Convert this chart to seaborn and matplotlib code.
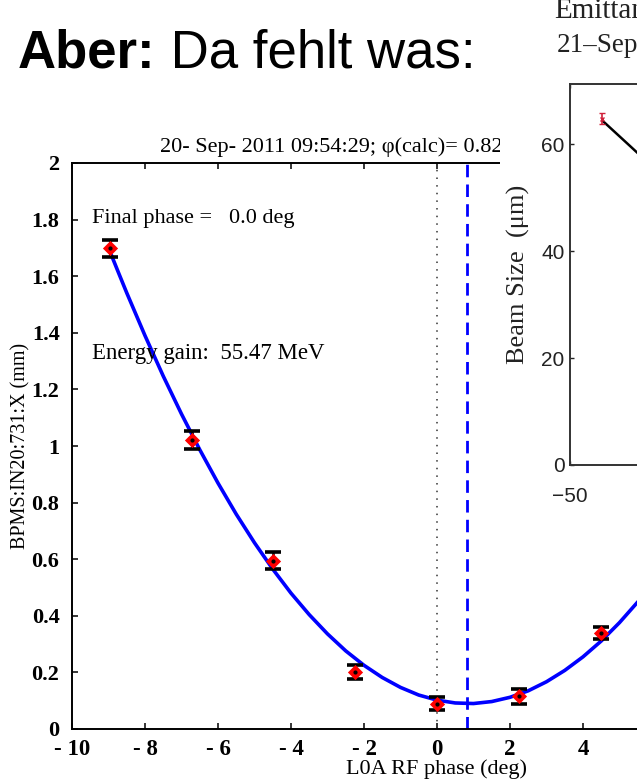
import numpy as np
import pandas as pd
import matplotlib.pyplot as plt
import seaborn as sns

# --- phase scan data ---
phase_deg = [-8.96, -6.72, -4.48, -2.24, 0.0, 2.24, 4.48]
bpm_x_mm = [1.698, 1.021, 0.595, 0.202, 0.090, 0.115, 0.340]
bpm_err_mm = [0.030, 0.032, 0.030, 0.025, 0.024, 0.027, 0.021]

# fitted curve
fit_phase = [-8.96, -8.75, -8.5, -8.0, -7.5, -7.0, -6.5, -6.0, -5.5, -5.0, -4.5, -4.0,
             -3.5, -3.0, -2.5, -2.0, -1.5, -1.0, -0.5, 0.0, 0.5, 1.0, 1.5,
             2.0, 2.5, 3.0, 3.5, 4.0, 4.5, 5.0, 5.5, 6.0]
fit_x_mm = [1.687, 1.62, 1.541, 1.39, 1.247, 1.113, 0.987, 0.869, 0.759, 0.658, 0.565, 0.48,
            0.404, 0.336, 0.276, 0.225, 0.182, 0.147, 0.12, 0.102, 0.092, 0.09, 0.097,
            0.112, 0.135, 0.167, 0.207, 0.255, 0.311, 0.376, 0.449, 0.53]

phase_calc = 0.82
final_phase = 0.0
# only the ticks that fall inside the slide crop
x_ticks = [-10, -8, -6, -4, -2, 0, 2, 4]
x_tick_labels = ['- 10', '- 8', '- 6', '- 4', '- 2', '0', '2', '4']
y_ticks = [0, 0.2, 0.4, 0.6, 0.8, 1.0, 1.2, 1.4, 1.6, 1.8, 2.0]
y_tick_labels = ['0', '0.2', '0.4', '0.6', '0.8', '1', '1.2', '1.4', '1.6', '1.8', '2']

# --- second (cropped) emittance plot ---
quad_k = [-39.3]
beam_size_um = [64.8]
beam_err_um = [1.0]
trend_k = [-39.3, -30.0, -20.0]
trend_um = [64.5, 59.7, 54.5]
beam_y_ticks = [0, 20, 40, 60]
beam_x_ticks = [-50]

sns.set_theme(style="ticks")
plt.rcParams['font.family'] = ['Liberation Serif', 'DejaVu Serif']
plt.rcParams.update({'axes.edgecolor': 'black', 'text.color': 'black',
                     'axes.labelcolor': 'black', 'xtick.color': 'black',
                     'ytick.color': 'black'})

W, H = 637, 783
fig = plt.figure(figsize=(W / 100, H / 100), dpi=100)
fig.patch.set_facecolor('white')

def rect(x0, y0, x1, y1):
    # pixel box (top-left origin) -> figure fraction
    return [x0 / W, 1 - y1 / H, (x1 - x0) / W, (y1 - y0) / H]

# main axes runs off the right edge of the slide
ax = fig.add_axes(rect(72, 163, 802, 729))
ax.set_facecolor('white')

df_fit = pd.DataFrame({'phase': fit_phase, 'x': fit_x_mm})
sns.lineplot(data=df_fit, x='phase', y='x', color='#0000ff', lw=2.6, ax=ax, zorder=3)

ax.axvline(final_phase, color='#333333', ls=(0, (1, 4)), lw=1.1, zorder=1)
ax.axvline(phase_calc, color='#0000ff', ls=(0, (4.5, 2.6)), lw=2.0, zorder=2)

ax.errorbar(phase_deg, bpm_x_mm, yerr=bpm_err_mm, fmt='none', ecolor='black',
            elinewidth=1.8, capsize=5.5, capthick=2.6, zorder=4)
df_pts = pd.DataFrame({'phase': phase_deg, 'x': bpm_x_mm})
sns.scatterplot(data=df_pts, x='phase', y='x', marker='D', s=60, color='red',
                edgecolor='red', linewidth=0, ax=ax, zorder=5)
ax.scatter(phase_deg, bpm_x_mm, s=4, color='black', zorder=6)

ax.set_xlim(-10, 10)
ax.set_ylim(0, 2)
ax.set_xticks(x_ticks)
ax.set_xticklabels(x_tick_labels, fontsize=16.5, fontweight='bold')
ax.set_yticks(y_ticks)
ax.set_yticklabels(y_tick_labels, fontsize=16, fontweight='bold')
ax.tick_params(direction='in', length=4, width=1.1, top=True, right=True, colors='black')
ax.tick_params(axis='x', pad=7)
ax.tick_params(axis='y', pad=9)
for s in ax.spines.values():
    s.set_visible(True)
    s.set_linewidth(1.4)
    s.set_color('black')

ax.set_xlabel('L0A RF phase (deg)', fontsize=16, labelpad=0)
ax.set_ylabel('BPMS:IN20:731:X (mm)', fontsize=14.5, labelpad=1)

ax.annotate('20- Sep- 2011 09:54:29; \u03c6(calc)= %.2f deg' % phase_calc,
            xy=(-7.59, 1), xycoords=('data', 'axes fraction'),
            xytext=(0, 8), textcoords='offset points',
            ha='left', va='baseline', fontsize=16, annotation_clip=False)
ax.text(-9.45, 1.788, 'Final phase =   %.1f deg' % final_phase, fontsize=16, va='baseline')
ax.text(-9.45, 1.307, 'Energy gain:  55.47 MeV', fontsize=16.5, va='baseline')

# white cover where the second screenshot sits on top
cover = fig.add_axes(rect(500, 0, 637, 515))
cover.set_facecolor('white')
cover.set_xticks([])
cover.set_yticks([])
for s in cover.spines.values():
    s.set_visible(False)

ax2 = fig.add_axes(rect(570, 84, 870, 465))
ax2.set_facecolor('white')
sns.lineplot(x=trend_k, y=trend_um, color='black', lw=1.8, ax=ax2, zorder=3)
ax2.errorbar(quad_k, beam_size_um, yerr=beam_err_um, fmt='x', color='#d0203a',
             ms=3, capsize=2.5, elinewidth=1.2, zorder=4)
ax2.set_xlim(-50, 50)
ax2.set_ylim(0, 71.3)
ax2.set_yticks(beam_y_ticks)
ax2.set_yticklabels([str(t) for t in beam_y_ticks], fontsize=15, family=['Liberation Sans', 'DejaVu Sans'])
ax2.set_xticks(beam_x_ticks)
ax2.set_xticklabels(['\u221250'], fontsize=15, family=['Liberation Sans', 'DejaVu Sans'])
ax2.tick_params(direction='in', length=3, width=1.0, top=True, right=True, pad=4, colors='#222222')
ax2.tick_params(axis='x', pad=16)
for s in ax2.spines.values():
    s.set_visible(True)
    s.set_linewidth(1.4)
    s.set_color('#333333')
ax2.set_ylabel('Beam Size  (\u03bcm)', fontsize=19, labelpad=8, color='#222222')
ax2.set_xlabel('')

fig.text(554 / W, 1 - 18 / H, 'Emittance', fontsize=21, color='#222222', va='baseline')
fig.text(557 / W, 1 - 52 / H, '21\u2013Sep\u20132011', fontsize=19.5, color='#222222', va='baseline')

# slide heading: bold "Aber:" then regular text on the same baseline
t1 = fig.text(18 / W, 1 - 67 / H, 'Aber:', fontsize=38, fontweight='bold',
              family=['Liberation Sans', 'DejaVu Sans'], va='baseline')
ax.annotate(' Da fehlt was:', xy=(1, 0), xycoords=t1, va='bottom', ha='left',
            fontsize=38, family=['Liberation Sans', 'DejaVu Sans'], annotation_clip=False)

fig.savefig('out.png', dpi=100, facecolor='white')
